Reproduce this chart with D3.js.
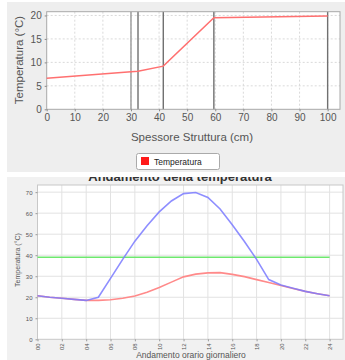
<!DOCTYPE html>
<html><head><meta charset="utf-8">
<script src="https://cdn.jsdelivr.net/npm/d3@7/dist/d3.min.js"></script>
<style>
body{margin:0;background:#fff}
svg{display:block;font-family:"Liberation Sans",Arial,sans-serif}
</style>
</head><body>
<svg id="c" width="345" height="360"></svg>
<script>
// Wall temperature profile
const depth = [0, 30, 32.5, 41.5, 59.5, 100];
const profileTemp = [6.6, 8.0, 8.1, 9.2, 19.5, 19.9];
const layerBounds = [30, 32.5, 41.5, 59.5, 100];
const depthTicks = [0, 10, 20, 30, 40, 50, 60, 70, 80, 90, 100];
const profileTicks = [0, 5, 10, 15, 20];

// Daily temperature course
const hours = [0,1,2,3,4,5,6,7,8,9,10,11,12,13,14,15,16,17,18,19,20,21,22,23,24];
const surfaceTemp = [20.7,20.0,19.5,19.0,18.5,20.0,29.0,38.0,46.7,54.0,60.6,65.8,69.3,69.8,67.5,62.0,54.5,46.5,38.0,28.4,25.8,24.3,22.8,21.7,20.7];
const innerTemp = [20.7,20.0,19.5,19.0,18.5,18.5,18.8,19.5,20.6,22.4,24.6,27.2,29.7,31.0,31.6,31.7,30.9,29.8,28.4,27.0,25.6,24.2,22.8,21.7,20.7];
const limitTemp = [39,39,39,39,39,39,39,39,39,39,39,39,39,39,39,39,39,39,39,39,39,39,39,39,39];
const hourTicks = [0,2,4,6,8,10,12,14,16,18,20,22,24];
const dayTicks = [0,10,20,30,40,50,60,70];

const svg = d3.select("#c");

// ---------- upper panel ----------
const upper = svg.append("g");
upper.append("rect").attr("x",7).attr("y",2).attr("width",338).attr("height",170).attr("fill","#eeeeee");

const x1 = d3.scaleLinear().domain([0,104.4]).range([46.7,340]);
const y1 = d3.scaleLinear().domain([0,20.8]).range([109.3,11.7]);

upper.append("rect").attr("x",46.7).attr("y",11.7).attr("width",340-46.7).attr("height",109.3-11.7)
  .attr("fill","#fff");

// grid
upper.append("g").selectAll("line").data(depthTicks.slice(1)).join("line")
  .attr("x1",d=>x1(d)).attr("x2",d=>x1(d)).attr("y1",11.7).attr("y2",109.3)
  .attr("stroke","#d0d0d0").attr("stroke-dasharray","2,2").attr("stroke-width",0.8);
upper.append("g").selectAll("line").data(profileTicks.slice(1)).join("line")
  .attr("x1",46.7).attr("x2",340).attr("y1",d=>y1(d)).attr("y2",d=>y1(d))
  .attr("stroke","#d0d0d0").attr("stroke-dasharray","2,2").attr("stroke-width",0.8);

// layer boundaries
upper.append("g").selectAll("line").data(layerBounds).join("line")
  .attr("x1",d=>x1(d)).attr("x2",d=>x1(d)).attr("y1",11.7).attr("y2",109.3)
  .attr("stroke",(d,i)=>i===0?"#9a9a9a":"#707070").attr("stroke-width",1.4);

upper.append("rect").attr("x",46.7).attr("y",11.7).attr("width",340-46.7).attr("height",109.3-11.7)
  .attr("fill","none").attr("stroke","#a8a8a8").attr("stroke-width",1);

upper.append("path").datum(depth.map((d,i)=>[d,profileTemp[i]]))
  .attr("d",d3.line().x(d=>x1(d[0])).y(d=>y1(d[1])))
  .attr("fill","none").attr("stroke","#ff7070").attr("stroke-width",1.5);

const ax1 = upper.append("g").attr("transform","translate(0,109.3)")
  .call(d3.axisBottom(x1).tickValues(depthTicks).tickSize(2).tickPadding(3));
const ay1 = upper.append("g").attr("transform","translate(46.7,0)")
  .call(d3.axisLeft(y1).tickValues(profileTicks).tickSize(2).tickPadding(3));
[ax1,ay1].forEach(a=>{
  a.select(".domain").remove();
  a.selectAll(".tick line").attr("stroke","#888");
  a.selectAll("text").attr("fill","#555").style("font-size","10px").style("font-family","Liberation Sans, Arial, sans-serif");
});

upper.append("text").attr("x",192).attr("y",141).attr("text-anchor","middle")
  .attr("fill","#555").style("font-size","11.5px").text("Spessore Struttura (cm)");
upper.append("text").attr("transform","translate(23,60) rotate(-90)").attr("text-anchor","middle")
  .attr("fill","#555").style("font-size","11.5px").text("Temperatura (°C)");

// legend
const lg = upper.append("g");
lg.append("rect").attr("x",136.5).attr("y",153.5).attr("width",83).attr("height",16).attr("rx",2)
  .attr("fill","#fff").attr("stroke","#aaa");
lg.append("rect").attr("x",141).attr("y",157).attr("width",8).attr("height",8).attr("fill","#ff1a1a");
lg.append("text").attr("x",154).attr("y",165).attr("fill","#222").style("font-size","8.5px").text("Temperatura");

// ---------- lower panel ----------
const lower = svg.append("g");
lower.append("rect").attr("x",7).attr("y",176).attr("width",338).attr("height",184).attr("fill","#f1f1f1");

lower.append("text").attr("x",180).attr("y",181).attr("text-anchor","middle")
  .attr("fill","#333").style("font-size","13px").style("font-weight","bold")
  .text("Andamento della temperatura");
// strip between panels hides the upper part of the title
svg.append("rect").attr("x",0).attr("y",172).attr("width",345).attr("height",5).attr("fill","#fff");

const x2 = d3.scaleLinear().domain([0,25.1]).range([37.5,343]);
const y2 = d3.scaleLinear().domain([0,73.4]).range([339.3,185]);

lower.append("rect").attr("x",37.5).attr("y",185).attr("width",343-37.5).attr("height",339.3-185).attr("fill","#fff");

lower.append("g").selectAll("line").data(hourTicks.slice(1)).join("line")
  .attr("x1",d=>x2(d)).attr("x2",d=>x2(d)).attr("y1",185).attr("y2",339.3)
  .attr("stroke","#e2e2e2").attr("stroke-width",1);
lower.append("g").selectAll("line").data(dayTicks.slice(1)).join("line")
  .attr("x1",37.5).attr("x2",343).attr("y1",d=>y2(d)).attr("y2",d=>y2(d))
  .attr("stroke","#e2e2e2").attr("stroke-width",1);

lower.append("rect").attr("x",37.5).attr("y",185).attr("width",343-37.5).attr("height",339.3-185)
  .attr("fill","none").attr("stroke","#c8c8c8");

const ln = d3.line().x((d,i)=>x2(hours[i])).y(d=>y2(d));
lower.append("path").datum(limitTemp).attr("d",ln).attr("fill","none").attr("stroke","#6ee86e").attr("stroke-width",1.4);
lower.append("path").datum(innerTemp).attr("d",ln).attr("fill","none").attr("stroke","#ff8a8a").attr("stroke-width",1.6);
lower.append("path").datum(surfaceTemp).attr("d",ln).attr("fill","none").attr("stroke","#7a7aff").attr("stroke-opacity",0.85).attr("stroke-width",1.6);

const ax2 = lower.append("g").attr("transform","translate(0,339.3)")
  .call(d3.axisBottom(x2).tickValues(hourTicks).tickFormat(d3.format("02d")).tickSize(2).tickPadding(2));
ax2.selectAll("text").attr("transform","rotate(-90)").attr("text-anchor","end")
  .attr("x",-4).attr("y",0).attr("dy","0.35em");
const ay2 = lower.append("g").attr("transform","translate(37.5,0)")
  .call(d3.axisLeft(y2).tickValues(dayTicks).tickSize(2).tickPadding(3));
[ax2,ay2].forEach(a=>{
  a.select(".domain").remove();
  a.selectAll(".tick line").attr("stroke","#999");
  a.selectAll("text").attr("fill","#555").style("font-size","6px").style("font-family","Liberation Sans, Arial, sans-serif");
});

lower.append("text").attr("x",191).attr("y",357.5).attr("text-anchor","middle")
  .attr("fill","#555").style("font-size","8.5px").text("Andamento orario giornaliero");
lower.append("text").attr("transform","translate(20,260) rotate(-90)").attr("text-anchor","middle")
  .attr("fill","#555").style("font-size","7px").text("Temperatura (°C)");
</script>
</body></html>
